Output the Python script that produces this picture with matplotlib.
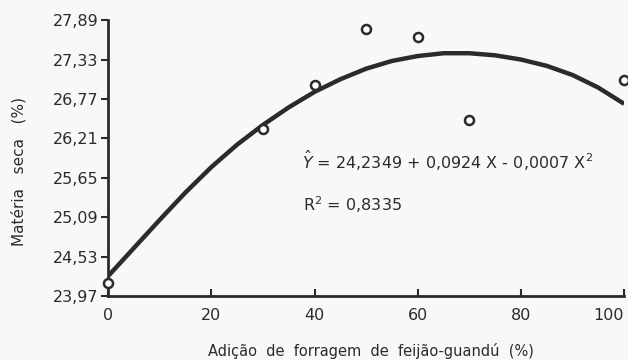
import matplotlib.pyplot as plt

obs_x = [0, 30, 40, 50, 60, 70, 100]
obs_y = [24.15, 26.34, 26.97, 27.76, 27.65, 26.47, 27.04]

# fitted curve as drawn on the chart
curve_x = [0, 5, 10, 15, 20, 25, 30, 35, 40, 45, 50, 55, 60, 65, 70, 75, 80, 85, 90, 95, 100]
curve_y = [24.25, 24.65, 25.05, 25.44, 25.80, 26.12, 26.40, 26.65, 26.87, 27.05, 27.20,
           27.31, 27.38, 27.42, 27.42, 27.39, 27.33, 27.24, 27.11, 26.93, 26.70]

x_ticks = [0, 20, 40, 60, 80, 100]
y_ticks = [23.97, 24.53, 25.09, 25.65, 26.21, 26.77, 27.33, 27.89]

ink = '#2b2b2b'
paper = '#f8f8f6'

fig = plt.figure(figsize=(6.28, 3.6), dpi=100, facecolor=paper)
ax = fig.add_axes([0.172, 0.178, 0.822, 0.766], facecolor=paper)

ax.plot(curve_x, curve_y, color=ink, lw=3.2, solid_capstyle='butt', zorder=2)
ax.plot(obs_x, obs_y, 'o', ms=6.5, mfc='white', mec=ink, mew=1.8, zorder=3, clip_on=False)

ax.set_xlim(0, 100)
ax.set_ylim(23.97, 27.89)
ax.set_xticks(x_ticks)
ax.set_xticklabels([str(v) for v in x_ticks])
ax.set_yticks(y_ticks)
ax.set_yticklabels([f'{v:.2f}'.replace('.', ',') for v in y_ticks])

for s in ['top', 'right']:
    ax.spines[s].set_visible(False)
for s in ['left', 'bottom']:
    ax.spines[s].set_color(ink)
    ax.spines[s].set_linewidth(2)

ax.tick_params(axis='y', direction='out', length=5, width=1.5, colors=ink,
               labelsize=11.5, pad=2)
ax.tick_params(axis='x', direction='in', length=5, width=1.5, colors=ink,
               labelsize=11.5, pad=9)
# last x label sits against the right edge, as in the scan
ax.get_xticklabels()[-1].set_horizontalalignment('right')

ax.set_ylabel('Matéria   seca   (%)', fontsize=11, color=ink)
ax.yaxis.set_label_coords(-0.158, 0.45)
fig.text(0.59, 1 - 351 / 360, 'Adição  de  forragem  de  feijão-guandú  (%)',
         fontsize=10.5, color=ink, ha='center', va='center')

ax.text(0.375, 0.49, r'$\hat{Y}$ = 24,2349 + 0,0924 X - 0,0007 X$^2$',
        transform=ax.transAxes, fontsize=11.5, color=ink, va='center')
ax.text(0.378, 0.33, r'R$^2$ = 0,8335', transform=ax.transAxes,
        fontsize=11.5, color=ink, va='center')

plt.savefig('out.png', dpi=100, facecolor=paper)
